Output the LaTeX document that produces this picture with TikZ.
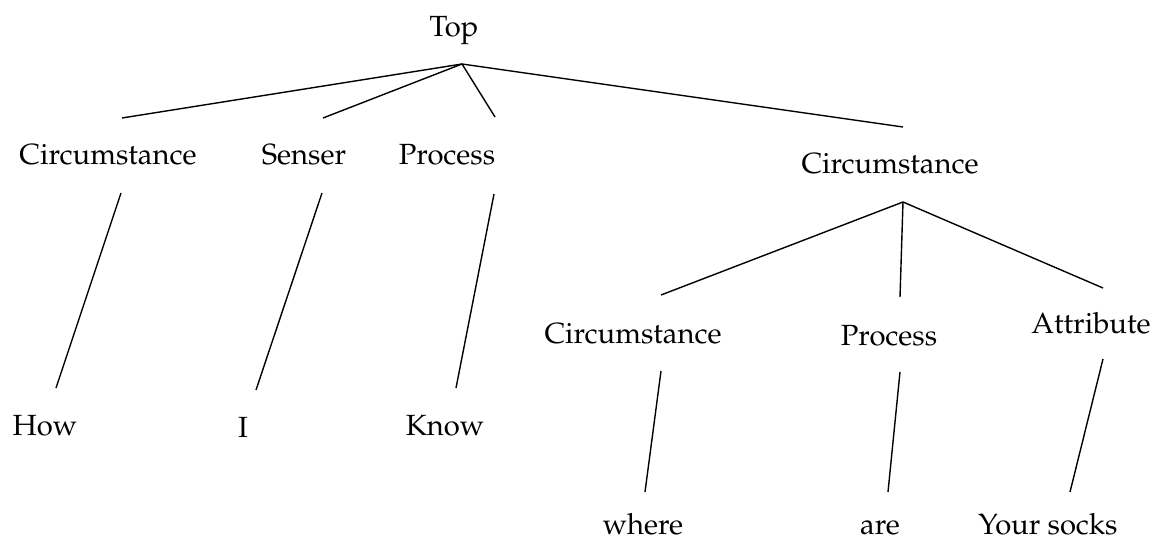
\documentclass[tikz,border=0pt]{standalone}
\usepackage[T1]{fontenc}
\renewcommand{\rmdefault}{ppl}
\begin{document}
\begin{tikzpicture}[x=1pt,y=-1pt,
  lbl/.style={anchor=base,inner sep=0pt,font=\fontsize{29.2}{35}\selectfont},
  edge/.style={line width=1.4pt}]
\useasboundingbox (0,0) rectangle (1154,540);
% labels
\node[lbl] (top)   at (454,37)  {Top};
\node[lbl] (circA) at (108,165) {Circumstance};
\node[lbl] (sens)  at (304,165) {Senser};
\node[lbl] (procA) at (447,165) {Process};
\node[lbl] (circB) at (890,174) {Circumstance};
\node[lbl] (how)   at (45,435)  {How};
\node[lbl] (i)     at (243,437) {I};
\node[lbl] (know)  at (445,435) {Know};
\node[lbl] (circC) at (633,343) {Circumstance};
\node[lbl] (procB) at (889,345) {Process};
\node[lbl] (attr)  at (1091,333) {Attribute};
\node[lbl] (where) at (643,534) {where};
\node[lbl] (are)   at (880,534) {are};
\node[lbl] (socks) at (1048,534) {Your socks};
% branch points
\coordinate (topFoot)   at (462,64);
\coordinate (circAHead) at (122,118);
\coordinate (sensHead)  at (323,118);
\coordinate (procAHead) at (495,117);
\coordinate (circBHead) at (903,127);
\coordinate (circAFoot) at (121,193);
\coordinate (sensFoot)  at (322,193);
\coordinate (procAFoot) at (494,194);
\coordinate (howHead)   at (56,388);
\coordinate (iHead)     at (256,390);
\coordinate (knowHead)  at (456,388);
\coordinate (circBFoot) at (903,202);
\coordinate (circCHead) at (661,295);
\coordinate (procBHead) at (900,297);
\coordinate (attrHead)  at (1103,288);
\coordinate (circCFoot) at (661,371);
\coordinate (procBFoot) at (900,372);
\coordinate (attrFoot)  at (1103,359);
\coordinate (whereHead) at (645,492);
\coordinate (areHead)   at (888,492);
\coordinate (socksHead) at (1070,492);
% branches
\draw[edge] (topFoot) -- (circAHead);
\draw[edge] (topFoot) -- (sensHead);
\draw[edge] (topFoot) -- (procAHead);
\draw[edge] (topFoot) -- (circBHead);
\draw[edge] (circAFoot) -- (howHead);
\draw[edge] (sensFoot) -- (iHead);
\draw[edge] (procAFoot) -- (knowHead);
\draw[edge] (circBFoot) -- (circCHead);
\draw[edge] (circBFoot) -- (procBHead);
\draw[edge] (circBFoot) -- (attrHead);
\draw[edge] (circCFoot) -- (whereHead);
\draw[edge] (procBFoot) -- (areHead);
\draw[edge] (attrFoot) -- (socksHead);
\end{tikzpicture}
\end{document}
